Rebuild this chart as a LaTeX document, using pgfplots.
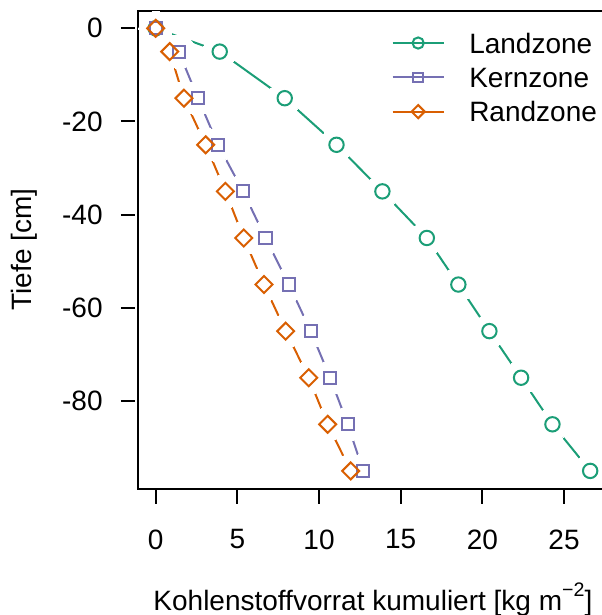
\documentclass[border=0pt]{standalone}
\usepackage{fontspec}
\setmainfont{Liberation Sans}
\usepackage{pgfplots}
\usepackage{pgfplotstable}
\pgfplotsset{compat=1.18}

\definecolor{land}{HTML}{1B9E77}
\definecolor{kern}{HTML}{7570B3}
\definecolor{rand}{HTML}{D95F02}

% kumulierter Vorrat [kg m^-2] gegen Tiefe [cm]
\pgfplotstableread{
x     y
0     0
3.92  -5
7.90  -15
11.07 -25
13.88 -35
16.60 -45
18.53 -55
20.43 -65
22.37 -75
24.29 -85
26.60 -95
}\landzone
\pgfplotstableread{
x     y
0     0
1.41  -5
2.59  -15
3.82  -25
5.35  -35
6.72  -45
8.16  -55
9.49  -65
10.68 -75
11.76 -85
12.70 -95
}\kernzone
\pgfplotstableread{
x     y
0     0
0.86  -5
1.73  -15
3.06  -25
4.27  -35
5.39  -45
6.63  -55
7.96  -65
9.37  -75
10.53 -85
11.94 -95
}\randzone

\begin{document}
\fontsize{14bp}{17bp}\selectfont
\begin{tikzpicture}
\useasboundingbox (-69.15bp,-63.2bp) rectangle (231.85bp,244.3bp);
\clip (-69.15bp,-63.2bp) rectangle (231.85bp,244.3bp);
\begin{axis}[
    at={(0,0)}, anchor=south west,
    scale only axis, width=234.6bp, height=239bp,
    xmin=-1.064, xmax=27.66, ymin=-98.8, ymax=3.8,
    axis on top,
    tick pos=left, tick align=outside, major tick length=7bp,
    xtick={0,5,10,15,20,25}, xticklabels={0,5,10,15,20,25},
    ytick={-80,-60,-40,-20,0}, yticklabels={-80,-60,-40,-20,0},
    axis line style={line width=1bp},
    every tick/.style={black, line width=1bp},
    every x tick/.append style={yshift=-0.6bp},
    every y tick/.append style={xshift=-1.65bp},
    xticklabel style={inner sep=0pt, yshift=-13.35bp},
    yticklabel style={inner sep=0pt, xshift=-10.65bp},
    xlabel={Kohlenstoffvorrat kumuliert [kg m\raisebox{7bp}{\fontsize{9.8bp}{11bp}\selectfont −2}]},
    ylabel={Tiefe [cm]},
    xlabel style={at={(axis description cs:0.5,-0.256)}, anchor=base},
    ylabel style={at={(axis description cs:-0.2272,0.5)}, anchor=base},
    legend style={draw=none, fill=none, inner sep=0pt, outer sep=0pt,
        at={(0.540,0.9531)}, anchor=north west,
        row sep=7.15bp, column sep=12.3bp,
        nodes={inner sep=0pt, text height=10bp, text depth=0bp}},
    legend cell align=left,
    legend image code/.code={
        \draw[#1, line width=1bp] (0bp,0bp) -- (25.5bp,0bp);
        \draw[#1, line width=1bp, every mark/.append style={scale=0.78}]
            plot coordinates {(12.75bp,0bp)};
    },
]
% Linien
\addplot[land, line width=1bp, forget plot] table {\landzone};
\addplot[kern, line width=1bp, forget plot] table {\kernzone};
\addplot[rand, line width=1bp, forget plot] table {\randzone};
% Luecken um die Punkte (type = "b")
\addplot[white, only marks, mark=*, mark size=8.4bp, line width=0pt, forget plot] table {\landzone};
\addplot[white, only marks, mark=*, mark size=8.4bp, line width=0pt, forget plot] table {\kernzone};
\addplot[white, only marks, mark=*, mark size=8.4bp, line width=0pt, forget plot] table {\randzone};
% Punkte
\addplot[land, only marks, mark=o, mark size=3.6bp, line width=1bp] table {\landzone};
\addlegendentry{Landzone}
\addplot[kern, only marks, mark=square, mark size=3.05bp, line width=1bp] table {\kernzone};
\addlegendentry{Kernzone}
\addplot[rand, only marks, mark=square, mark size=3.0bp, mark options={rotate=45}, line width=1bp] table {\randzone};
\addlegendentry{Randzone}
\end{axis}
\end{tikzpicture}
\end{document}
